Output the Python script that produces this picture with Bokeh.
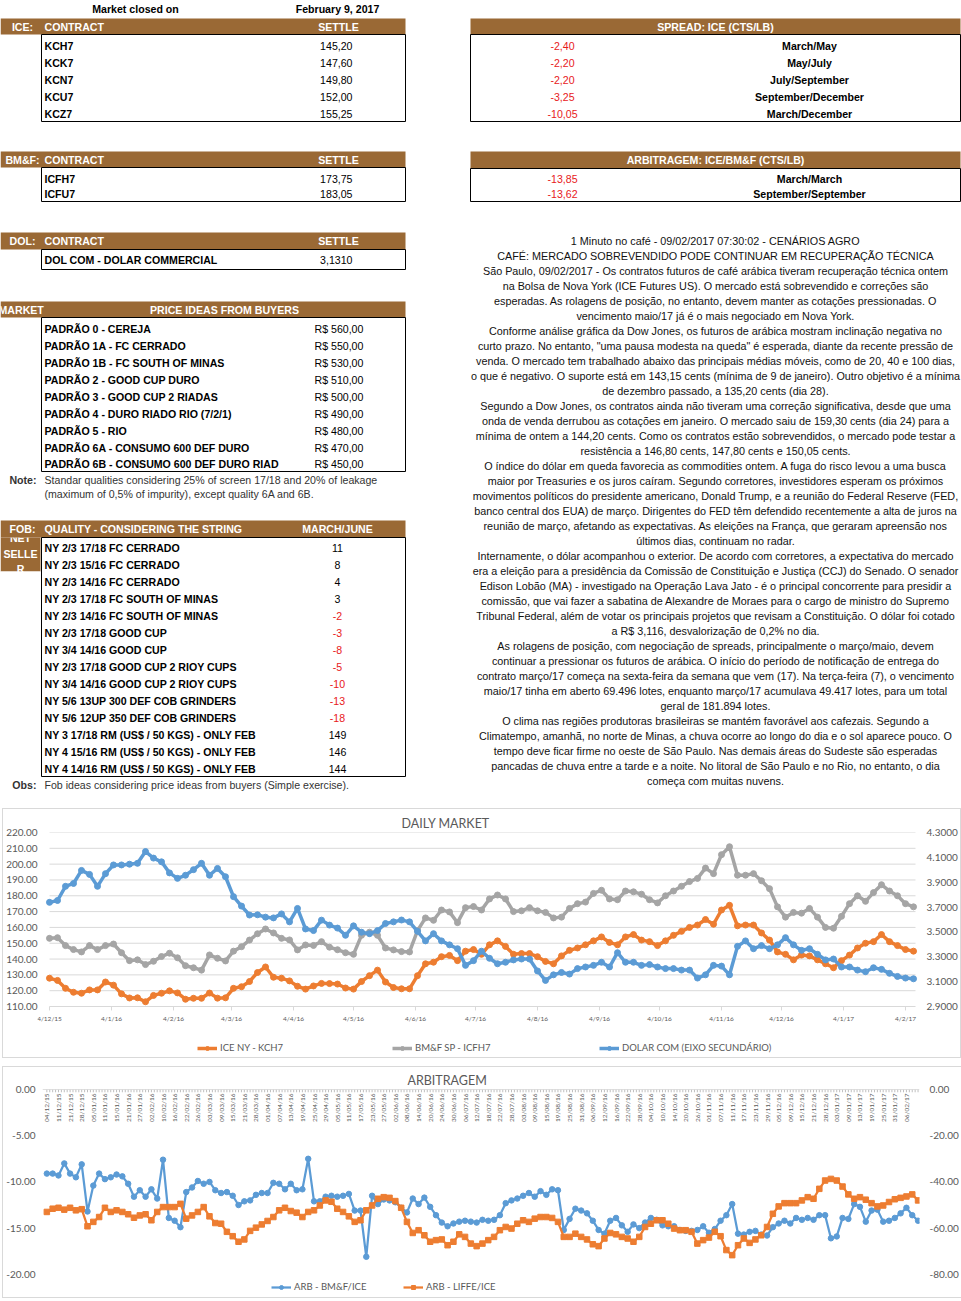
import numpy as np
import pandas as pd
from bokeh.plotting import figure
from bokeh.models import (Range1d, LinearAxis, FixedTicker, NumeralTickFormatter,
                          Legend, LegendItem, Span)
from bokeh.embed import file_html
from bokeh.resources import INLINE
from bokeh.core.properties import value

# ---------------------------------------------------------------- data
market_closed_on = "February 9, 2017"

ice_contracts = ["KCH7", "KCK7", "KCN7", "KCU7", "KCZ7"]
ice_settle = [145.20, 147.60, 149.80, 152.00, 155.25]

spread_values = [-2.40, -2.20, -2.20, -3.25, -10.05]
spread_labels = ["March/May", "May/July", "July/September", "September/December", "March/December"]

bmf_contracts = ["ICFH7", "ICFU7"]
bmf_settle = [173.75, 183.05]

arb_values = [-13.85, -13.62]
arb_labels = ["March/March", "September/September"]

dol_contracts = ["DOL COM - DOLAR COMMERCIAL"]
dol_settle = [3.1310]

price_qualities = ["PADRÃO 0 - CEREJA", "PADRÃO 1A - FC CERRADO", "PADRÃO 1B - FC SOUTH OF MINAS",
                   "PADRÃO 2 - GOOD CUP DURO", "PADRÃO 3 - GOOD CUP 2 RIADAS",
                   "PADRÃO 4 - DURO RIADO RIO (7/2/1)", "PADRÃO 5 - RIO",
                   "PADRÃO 6A - CONSUMO 600 DEF DURO", "PADRÃO 6B - CONSUMO 600 DEF DURO RIAD"]
price_values = [560.00, 550.00, 530.00, 510.00, 500.00, 490.00, 480.00, 470.00, 450.00]
price_note = ["Standar qualities considering 25% of screen 17/18 and 20% of leakage",
              "(maximum of 0,5% of impurity), except quality 6A and 6B."]

fob_qualities = ["NY 2/3 17/18 FC CERRADO", "NY 2/3 15/16 FC CERRADO", "NY 2/3 14/16 FC CERRADO",
                 "NY 2/3 17/18 FC SOUTH OF MINAS", "NY 2/3 14/16 FC SOUTH OF MINAS",
                 "NY 2/3 17/18 GOOD CUP", "NY 3/4 14/16 GOOD CUP", "NY 2/3 17/18 GOOD CUP 2 RIOY CUPS",
                 "NY 3/4 14/16 GOOD CUP 2 RIOY CUPS", "NY 5/6 13UP 300 DEF COB GRINDERS",
                 "NY 5/6 12UP 350 DEF COB GRINDERS", "NY 3 17/18 RM (US$ / 50 KGS) - ONLY FEB",
                 "NY 4 15/16 RM (US$ / 50 KGS) - ONLY FEB", "NY 4 14/16 RM (US$ / 50 KGS) - ONLY FEB"]
fob_values = [11, 8, 4, 3, -2, -3, -8, -5, -10, -13, -18, 149, 146, 144]
fob_obs = "Fob ideas considering price ideas from buyers (Simple exercise)."

news_lines = [
    "1 Minuto no café - 09/02/2017 07:30:02 - CENÁRIOS AGRO",
    "CAFÉ: MERCADO SOBREVENDIDO PODE CONTINUAR EM RECUPERAÇÃO TÉCNICA",
    "São Paulo, 09/02/2017 - Os contratos futuros de café arábica tiveram recuperação técnica ontem",
    "na Bolsa de Nova York (ICE Futures US). O mercado está sobrevendido e correções são",
    "esperadas. As rolagens de posição, no entanto, devem manter as cotações pressionadas. O",
    "vencimento maio/17 já é o mais negociado em Nova York.",
    "Conforme análise gráfica da Dow Jones, os futuros de arábica mostram inclinação negativa no",
    'curto prazo. No entanto, "uma pausa modesta na queda" é esperada, diante da recente pressão de',
    "venda. O mercado tem trabalhado abaixo das principais médias móveis, como de 20, 40 e 100 dias,",
    "o que é negativo. O suporte está em 143,15 cents (mínima de 9 de janeiro). Outro objetivo é a mínima",
    "de dezembro passado, a 135,20 cents (dia 28).",
    "Segundo a Dow Jones, os contratos ainda não tiveram uma correção significativa, desde que uma",
    "onda de venda derrubou as cotações em janeiro. O mercado saiu de 159,30 cents (dia 24) para a",
    "mínima de ontem a 144,20 cents. Como os contratos estão sobrevendidos, o mercado pode testar a",
    "resistência a 146,80 cents, 147,80 cents e 150,05 cents.",
    "O índice do dólar em queda favorecia as commodities ontem. A fuga do risco levou a uma busca",
    "maior por Treasuries e os juros caíram. Segundo corretores, investidores esperam os próximos",
    "movimentos políticos do presidente americano, Donald Trump, e a reunião do Federal Reserve (FED,",
    "banco central dos EUA) de março. Dirigentes do FED têm defendido recentemente a alta de juros na",
    "reunião de março, afetando as expectativas. As eleições na França, que geraram apreensão nos",
    "últimos dias, continuam no radar.",
    "Internamente, o dólar acompanhou o exterior. De acordo com corretores, a expectativa do mercado",
    "era a eleição para a presidência da Comissão de Constituição e Justiça (CCJ) do Senado. O senador",
    "Edison Lobão (MA) - investigado na Operação Lava Jato - é o principal concorrente para presidir a",
    "comissão, que vai fazer a sabatina de Alexandre de Moraes para o cargo de ministro do Supremo",
    "Tribunal Federal, além de votar os principais projetos que revisam a Constituição. O dólar foi cotado",
    "a R$ 3,116, desvalorização de 0,2% no dia.",
    "As rolagens de posição, com negociação de spreads, principalmente o março/maio, devem",
    "continuar a pressionar os futuros de arábica. O início do período de notificação de entrega do",
    "contrato março/17 começa na sexta-feira da semana que vem (17). Na terça-feira (7), o vencimento",
    "maio/17 tinha em aberto 69.496 lotes, enquanto março/17 acumulava 49.417 lotes, para um total",
    "geral de 181.894 lotes.",
    "O clima nas regiões produtoras brasileiras se mantém favorável aos cafezais. Segundo a",
    "Climatempo, amanhã, no norte de Minas, a chuva ocorre ao longo do dia e o sol aparece pouco. O",
    "tempo deve ficar firme no oeste de São Paulo. Nas demais áreas do Sudeste são esperadas",
    "pancadas de chuva entre a tarde e a noite. No litoral de São Paulo e no Rio, no entanto, o dia",
    "começa com muitas nuvens.",
]

# DAILY MARKET: one reading every 4 days from 04/12/2015
daily_start = "2015-12-04"
daily_end = "2017-02-09"
daily_step = "4D"
daily_tick_labels = ["4/12/15", "4/1/16", "4/2/16", "4/3/16", "4/4/16", "4/5/16", "4/6/16", "4/7/16",
                     "4/8/16", "4/9/16", "4/10/16", "4/11/16", "4/12/16", "4/1/17", "4/2/17"]
ice_kch7 = [127.9, 126.5, 121.5, 119.0, 118.4, 120.5, 120.5, 125.5, 123.5, 118.0, 115.4, 115.5, 113.0,
            117.0, 118.4, 119.9, 118.6, 114.6, 115.2, 115.2, 118.5, 115.3, 115.5, 121.5, 122.5, 125.8,
            131.5, 135.0, 128.5, 127.9, 126.2, 122.8, 121.0, 123.0, 124.6, 124.5, 124.2, 121.7, 121.0,
            125.8, 129.5, 133.0, 125.5, 122.0, 121.2, 121.2, 129.5, 137.0, 138.0, 141.5, 142.3, 139.0,
            145.0, 146.0,
            143.0, 149.0, 151.5, 148.0, 143.0, 143.5, 143.5, 141.5, 138.5, 137.0, 142.0, 145.5, 147.0,
            149.0, 151.5, 154.0, 150.5, 149.0, 154.0, 155.5, 152.0, 151.0, 148.5, 151.5, 155.0, 157.5,
            160.0, 161.5, 165.0, 162.0, 171.0, 174.0, 161.0, 161.5, 161.5, 156.5, 152.0, 144.5, 143.0,
            139.5, 142.5, 142.0, 139.5, 137.0, 134.5, 139.0, 142.5, 147.0, 150.0, 151.0, 155.5, 151.0,
            148.5, 146.0, 145.0]
bmf_icfh7 = [153.1, 153.5, 148.5, 146.0, 144.5, 148.5, 146.0, 148.5, 149.5, 144.0, 139.0, 139.5, 136.5,
             138.6, 141.6, 143.7, 140.8, 135.8, 134.5, 133.0, 142.6, 140.5, 138.8, 145.0, 147.8, 152.0,
             156.0, 159.0, 156.5, 153.1, 152.1, 145.8, 148.9, 148.6, 151.0, 147.5, 145.9, 144.0, 143.0,
             155.0, 157.0, 155.0, 147.0, 145.8, 144.7, 144.5, 158.0, 166.0, 164.5, 171.0, 169.8, 163.0,
             172.5, 173.2,
             171.0, 178.0, 180.5, 178.0, 170.0, 170.5, 172.5, 170.5, 169.5, 166.0, 166.5, 172.0, 175.0,
             176.0, 181.5, 183.5, 178.0, 177.5, 183.0, 182.5, 181.0, 177.5, 175.5, 180.0, 183.0, 186.0,
             189.0, 191.0, 197.5, 194.0, 206.0, 211.0, 193.0, 193.0, 194.0, 189.5, 184.5, 173.0, 166.5,
             169.5, 169.0, 172.0, 166.5, 160.0, 159.5, 167.0, 175.0, 180.0, 176.5, 182.0, 187.0, 183.0,
             180.0, 175.0, 173.0]
dolar_com = [3.738, 3.753, 3.867, 3.890, 3.995, 3.963, 3.867, 3.969, 4.039, 4.039, 4.045, 4.052, 4.147,
             4.094, 4.064, 3.975, 3.931, 3.956, 4.001, 4.052, 3.956, 4.011, 3.944, 3.784, 3.708, 3.636,
             3.638, 3.619, 3.613, 3.645, 3.581, 3.689, 3.524, 3.511, 3.595, 3.555, 3.531, 3.473, 3.549,
             3.498, 3.486, 3.511, 3.568, 3.581, 3.596, 3.581, 3.505, 3.428, 3.486, 3.428, 3.396, 3.365,
             3.231, 3.269,
             3.345, 3.288, 3.244, 3.256, 3.275, 3.282, 3.282, 3.186, 3.110, 3.155, 3.174, 3.161, 3.205,
             3.218, 3.231, 3.256, 3.218, 3.333, 3.256, 3.256, 3.231, 3.237, 3.218, 3.205, 3.205, 3.193,
             3.193, 3.129, 3.155, 3.231, 3.225, 3.155, 3.384, 3.428, 3.365, 3.390, 3.365, 3.396, 3.454,
             3.396, 3.352, 3.365, 3.320, 3.275, 3.282, 3.218, 3.218, 3.193, 3.180, 3.212, 3.199, 3.167,
             3.142, 3.129, 3.123]

# ARBITRAGEM: category axis of trading days, one reading every 2 sessions
arb_x_labels = ["04/12/15", "11/12/15", "21/12/15", "28/12/15", "05/01/16", "11/01/16", "15/01/16",
                "21/01/16", "27/01/16", "02/02/16", "10/02/16", "16/02/16", "22/02/16", "26/02/16",
                "03/03/16", "09/03/16", "15/03/16", "21/03/16", "28/03/16", "01/04/16", "07/04/16",
                "13/04/16", "19/04/16", "25/04/16", "29/04/16", "05/05/16", "11/05/16", "17/05/16",
                "23/05/16", "27/05/16", "02/06/16", "08/06/16", "14/06/16", "20/06/16", "24/06/16",
                "30/06/16", "06/07/16", "12/07/16", "18/07/16", "22/07/16", "28/07/16", "03/08/16",
                "09/08/16", "15/08/16", "19/08/16", "25/08/16", "31/08/16", "06/09/16", "12/09/16",
                "16/09/16", "22/09/16", "28/09/16", "04/10/16", "10/10/16", "14/10/16", "20/10/16",
                "26/10/16", "01/11/16", "07/11/16", "11/11/16", "17/11/16", "23/11/16", "29/11/16",
                "05/12/16", "09/12/16", "15/12/16", "21/12/16", "28/12/16", "03/01/17", "09/01/17",
                "13/01/17", "19/01/17", "25/01/17", "31/01/17", "06/02/17"]
arb_bmf_ice = [-9.1, -9.1, -9.3, -8.0, -9.1, -9.5, -8.1, -13.2, -10.4, -9.1,
               -9.7, -9.5, -9.2, -9.4, -10.2, -11.6, -10.9, -11.6, -10.8, -11.8,
               -7.6, -13.9, -14.2, -14.9, -11.1, -10.6, -9.9, -10.2, -10.0, -10.9,
               -11.2, -11.1, -11.5, -12.5, -12.1, -12.0, -11.4, -11.2, -11.2, -10.1,
               -10.2, -10.8, -10.2, -10.9, -10.8, -7.5, -12.1, -12.1, -11.6, -11.5,
               -11.6, -11.5, -11.3, -13.1, -13.1, -18.1, -11.5, -12.4, -11.9, -12.0,
               -12.2, -12.8, -13.3, -11.8, -12.4, -11.7, -12.7, -13.6, -14.4, -14.8,
               -14.5, -14.3, -14.2, -14.3, -14.4, -14.1, -14.2, -14.1, -13.6, -12.3,
               -12.0, -11.8, -11.5, -11.2, -11.6, -11.0, -11.4, -10.8, -10.9, -15.2,
               -14.0, -12.9, -13.1, -13.4, -14.2, -15.2, -15.6, -14.2, -13.9, -14.7,
               -15.4, -14.6, -15.0, -14.4, -13.9, -14.1, -14.7, -14.8, -14.8, -15.2,
               -15.3, -15.3, -15.2, -14.8, -15.5, -15.1, -14.2, -13.6, -12.4, -15.6,
               -15.7, -15.4, -15.3, -15.7, -15.8, -14.9, -14.5, -14.2, -14.5, -13.9,
               -14.1, -13.9, -14.1, -13.6, -13.6, -16.1, -15.9, -13.9, -14.0, -12.4,
               -12.7, -14.3, -13.1, -13.0, -14.3, -14.2, -13.9, -13.4, -12.8, -13.6,
               -14.2]
arb_liffe_ice = [-53.0, -51.6, -51.2, -52.0, -51.2, -52.3, -51.8, -59.2, -57.3, -55.2,
                 -51.2, -53.0, -52.3, -53.0, -54.0, -55.5, -54.5, -54.0, -56.6, -53.0,
                 -50.9, -50.9, -50.9, -49.5, -55.9, -54.5, -53.0, -50.9, -54.9, -57.8,
                 -58.1, -61.6, -63.5, -65.9, -64.9, -61.2, -59.8, -58.4, -56.9, -55.2,
                 -52.3, -51.2, -52.6, -53.3, -55.2, -53.0, -52.3, -50.2, -48.0, -48.6,
                 -51.6, -53.0, -54.9, -57.3, -56.6, -52.3, -50.2, -47.3, -46.6, -46.9,
                 -48.3, -51.2, -57.3, -62.1, -60.9, -63.1, -65.9, -65.2, -64.9, -67.4,
                 -65.9, -62.7, -63.8, -66.7, -67.8, -66.7, -65.2, -63.8, -60.9, -59.5,
                 -60.2, -58.1, -56.6, -57.3, -55.9, -55.2, -55.2, -55.6, -57.3, -63.8,
                 -63.8, -62.4, -63.8, -64.9, -67.0, -67.8, -64.5, -62.1, -62.7, -63.8,
                 -64.5, -65.9, -63.8, -59.5, -58.1, -56.6, -56.6, -58.1, -60.2, -60.9,
                 -60.9, -61.6, -66.7, -65.2, -64.1, -61.6, -63.5, -69.5, -71.7, -67.4,
                 -64.5, -66.4, -64.9, -63.1, -59.5, -53.8, -50.6, -49.2, -49.2, -49.2,
                 -48.0, -46.6, -47.3, -43.0, -39.4, -38.7, -39.4, -42.0, -45.4, -47.3,
                 -46.6, -47.7, -49.2, -50.6, -50.2, -48.7, -47.5, -46.9, -46.3, -45.4,
                 -48.0]

# ---------------------------------------------------------------- style
FONT = value("Liberation Sans")
FS = "10.6px"
BROWN = "#9A6935"
RED = "#E8191B"
GRAY_TXT = "#595959"
GRID = "#D9D9D9"
C_ORANGE = "#ED7D31"
C_GRAY = "#A5A5A5"
C_BLUE = "#5B9BD5"


def br(v, d=2):
    return f"{v:.{d}f}".replace(".", ",")


# ---------------------------------------------------------------- top panel (tables + news)
top = figure(frame_width=961, frame_height=806, x_range=Range1d(0, 961), y_range=Range1d(806, 0),
             output_backend="svg", toolbar_location=None, min_border=0,
             x_axis_location=None, y_axis_location=None, outline_line_color=None)
top.grid.visible = False


def put(xs, ys, texts, align="left", color="#000000", bold=False, size=FS):
    top.text(x=xs, y=ys, text=texts, text_align=align, text_baseline="middle",
             text_color=color, text_font=FONT, text_font_size=size,
             text_font_style="bold" if bold else "normal")


# NET SELLER box (text partly hidden by neighbouring cells)
top.quad(left=[0], right=[40], top=[537], bottom=[571], fill_color=BROWN, line_color=None)
put([20, 20, 20], [537, 553, 568], ["NET", "SELLE", "R"], align="center", color="white", bold=True)

# brown header bars
lh = [(18, 34), (151, 167), (232, 249), (301, 317), (520, 537)]
rh = [(18, 34), (151, 168)]
top.quad(left=[0] * len(lh) + [470] * len(rh), right=[405] * len(lh) + [960] * len(rh),
         top=[a for a, b in lh + rh], bottom=[b for a, b in lh + rh], fill_color=BROWN, line_color=None)
top.quad(left=[0], right=[40], top=[571], bottom=[580], fill_color="white", line_color=None)

# table bodies
lb = [(34, 121), (167, 201), (249, 269), (317, 471), (537, 776)]
rb = [(34, 121), (168, 201)]
top.quad(left=[41] * len(lb) + [470] * len(rb), right=[405] * len(lb) + [960] * len(rb),
         top=[a for a, b in lb + rb], bottom=[b for a, b in lb + rb],
         fill_alpha=0, line_color="black", line_width=1)

# title row
put([135, 337], [8, 8], ["Market closed on", market_closed_on], align="center", bold=True)

# header texts
put([22, 22, 22, 22], [26, 159, 240.5, 528.5], ["ICE:", "BM&F:", "DOL:", "FOB:"], align="center",
    color="white", bold=True)
put([-2], [309], ["MARKET"], color="white", bold=True)
put([44, 44, 44, 44], [26, 159, 240.5, 528.5],
    ["CONTRACT", "CONTRACT", "CONTRACT", "QUALITY - CONSIDERING THE STRING"], color="white", bold=True)
put([338, 338, 338, 224, 337, 715, 715], [26, 159, 240.5, 309, 528, 26, 159.5],
    ["SETTLE", "SETTLE", "SETTLE", "PRICE IDEAS FROM BUYERS", "MARCH/JUNE",
     "SPREAD: ICE (CTS/LB)", "ARBITRAGEM: ICE/BM&F (CTS/LB)"], align="center", color="white", bold=True)

# ICE
ice_y = [45 + 17 * i for i in range(len(ice_contracts))]
put([44] * len(ice_y), ice_y, ice_contracts, bold=True)
put([352] * len(ice_y), ice_y, [br(v) for v in ice_settle], align="right")
# spread
put([562] * len(ice_y), ice_y, [br(v) for v in spread_values], align="center", color=RED)
put([809] * len(ice_y), ice_y, spread_labels, align="center", bold=True)
# BM&F
bmf_y = [178, 193]
put([44, 44], bmf_y, bmf_contracts, bold=True)
put([352, 352], bmf_y, [br(v) for v in bmf_settle], align="right")
put([562, 562], bmf_y, [br(v) for v in arb_values], align="center", color=RED)
put([809, 809], bmf_y, arb_labels, align="center", bold=True)
# DOL
put([44], [259.5], dol_contracts, bold=True)
put([352], [259.5], [br(v, 4) for v in dol_settle], align="right")
# price ideas
p_y = [328 + 17 * i for i in range(len(price_qualities) - 1)] + [463]
put([44] * len(p_y), p_y, price_qualities, bold=True)
put([314] * len(p_y), p_y, ["R$ " + br(v) for v in price_values])
put([36], [479], ["Note:"], align="right", color="#333333", bold=True)
put([44, 44], [479, 493], price_note, color="#333333")
# FOB
f_y = [547 + 17 * i for i in range(len(fob_qualities))]
put([44] * len(f_y), f_y, fob_qualities, bold=True)
pos_i = [i for i, v in enumerate(fob_values) if v >= 0]
neg_i = [i for i, v in enumerate(fob_values) if v < 0]
put([337] * len(pos_i), [f_y[i] for i in pos_i], [str(fob_values[i]) for i in pos_i], align="center")
put([337] * len(neg_i), [f_y[i] for i in neg_i], [str(fob_values[i]) for i in neg_i], align="center",
    color=RED)
put([36], [784], ["Obs:"], align="right", color="#333333", bold=True)
put([44], [784], [fob_obs], color="#333333")
# news
put([715] * len(news_lines), [240 + 15 * i for i in range(len(news_lines))], news_lines,
    align="center", color="#111111", size="10.8px")


def one_legend(fig, label, rends, x, y):
    lg = Legend(items=[LegendItem(label=label, renderers=rends)], location=(x, y),
                orientation="horizontal", border_line_color=None, background_fill_alpha=0,
                padding=0, margin=0, spacing=0, glyph_width=20, glyph_height=10, label_standoff=3,
                label_text_font="Lato", label_text_font_size="9.5px", label_text_color=GRAY_TXT,
                label_height=10)
    fig.add_layout(lg)


def style_y(ax, standoff):
    ax.axis_line_color = None
    ax.major_tick_line_color = None
    ax.minor_tick_line_color = None
    ax.major_tick_out = 0
    ax.major_tick_in = 0
    ax.minor_tick_out = 0
    ax.minor_tick_in = 0
    ax.major_label_text_color = GRAY_TXT
    ax.major_label_text_font = "Lato"
    ax.major_label_text_font_size = "10px"
    ax.major_label_standoff = standoff


def style_title(fig, offset):
    fig.title.text_font = "Lato"
    fig.title.text_font_size = "12.5px"
    fig.title.text_font_style = "normal"
    fig.title.text_color = GRAY_TXT
    fig.title.align = "left"
    fig.title.offset = offset
    fig.title.standoff = 4


# ---------------------------------------------------------------- DAILY MARKET chart
d_dates = pd.date_range(daily_start, periods=len(ice_kch7), freq=daily_step)
tick_dt = pd.to_datetime(daily_tick_labels, format="%d/%m/%y")
d_first, d_last = pd.Timestamp(daily_start), pd.Timestamp(daily_end)
left_ticks = list(range(110, 221, 10))

# frame runs down to the bottom of the chart box so the legend can sit inside it
Y_LO, Y_HI = 78.4, 220.0
DOL_LO, DOL_HI = 2.9 + (Y_LO - 110) * 1.4 / 110, 4.3

c1 = figure(x_axis_type="datetime", frame_width=884, frame_height=224,
            min_border_left=33, min_border_right=39, min_border_top=23, min_border_bottom=1,
            x_range=Range1d(d_first - pd.Timedelta(days=6), d_last + pd.Timedelta(days=3)),
            y_range=Range1d(Y_LO, Y_HI), x_axis_location=None,
            output_backend="svg", toolbar_location=None,
            title="DAILY MARKET", outline_line_color=None,
            styles={"border": "1px solid #D9D9D9", "margin-left": "2px", "margin-top": "2px"})
style_title(c1, 364)
c1.extra_y_ranges = {"dol": Range1d(DOL_LO, DOL_HI)}
c1.grid.visible = False

ly = c1.yaxis[0]
ly.ticker = FixedTicker(ticks=left_ticks)
ly.formatter = NumeralTickFormatter(format="0.00", language="pt-br")
ry = LinearAxis(y_range_name="dol", ticker=FixedTicker(ticks=[2.9, 3.1, 3.3, 3.5, 3.7, 3.9, 4.1, 4.3]),
                formatter=NumeralTickFormatter(format="0.0000", language="pt-br"))
c1.add_layout(ry, "right")
style_y(ly, 0)
style_y(ry, 5)

# horizontal gridlines across the date span, axis line at 110, tick marks and date labels
c1.segment(x0=[d_first] * len(left_ticks), y0=left_ticks, x1=[d_last] * len(left_ticks), y1=left_ticks,
           line_color=GRID, line_width=1)
c1.segment(x0=tick_dt, y0=[110] * len(tick_dt), x1=tick_dt, y1=[107.5] * len(tick_dt),
           line_color=GRID, line_width=1)
c1.text(x=tick_dt, y=[110] * len(tick_dt), text=daily_tick_labels, text_align="center",
        text_baseline="top", y_offset=8, text_font=value("Lato"), text_font_size="6.5px",
        text_color=GRAY_TXT)

LW, MS = 3.5, 6
r_o1 = c1.line(d_dates, ice_kch7, line_color=C_ORANGE, line_width=LW)
r_o2 = c1.scatter(d_dates, ice_kch7, marker="circle", size=MS, fill_color=C_ORANGE, line_color=C_ORANGE)
r_g1 = c1.line(d_dates, bmf_icfh7, line_color=C_GRAY, line_width=LW)
r_g2 = c1.scatter(d_dates, bmf_icfh7, marker="circle", size=MS, fill_color=C_GRAY, line_color=C_GRAY)
r_b1 = c1.line(d_dates, dolar_com, line_color=C_BLUE, line_width=LW, y_range_name="dol")
r_b2 = c1.scatter(d_dates, dolar_com, marker="circle", size=MS, fill_color=C_BLUE, line_color=C_BLUE,
                  y_range_name="dol")

one_legend(c1, "ICE NY - KCH7", [r_o1, r_o2], 160, 3)
one_legend(c1, "BM&F SP - ICFH7", [r_g1, r_g2], 355, 3)
one_legend(c1, "DOLAR COM (EIXO SECUNDÁRIO)", [r_b1, r_b2], 562, 3)

# ---------------------------------------------------------------- ARBITRAGEM chart
arb_idx = np.arange(0, 2 * len(arb_bmf_ice), 2)
lab_idx = np.arange(0, 4 * len(arb_x_labels), 4)
cat_idx = np.arange(0, arb_idx[-1] + 1)

A_LO = -22.4
c2 = figure(frame_width=877, frame_height=207,
            min_border_left=38, min_border_right=41, min_border_top=22, min_border_bottom=1,
            x_range=Range1d(-1.5, 300.5), y_range=Range1d(A_LO, 0),
            x_axis_location=None, output_backend="svg", toolbar_location=None,
            title="ARBITRAGEM", outline_line_color=None,
            styles={"border": "1px solid #D9D9D9", "margin-left": "2px", "margin-top": "8px"})
style_title(c2, 365)
c2.extra_y_ranges = {"liffe": Range1d(4 * A_LO, 0)}
c2.grid.visible = False

ly2 = c2.yaxis[0]
ly2.ticker = FixedTicker(ticks=[-20, -15, -10, -5, 0])
ly2.formatter = NumeralTickFormatter(format="0.00", language="pt-br")
ry2 = LinearAxis(y_range_name="liffe", ticker=FixedTicker(ticks=[-80, -60, -40, -20, 0]),
                 formatter=NumeralTickFormatter(format="0.00", language="pt-br"))
c2.add_layout(ry2, "right")
style_y(ly2, 7)
style_y(ry2, 10)

# category axis line at zero with a tick for every session
c2.add_layout(Span(location=0, dimension="width", line_color="#BFBFBF", line_width=1))
c2.segment(x0=cat_idx, y0=[0] * len(cat_idx), x1=cat_idx, y1=[-0.3] * len(cat_idx),
           line_color="#BFBFBF", line_width=1)
c2.text(x=lab_idx, y=[0] * len(lab_idx), text=arb_x_labels, angle=np.pi / 2, text_align="right",
        text_baseline="middle", y_offset=4, text_font=value("Lato"), text_font_size="6.5px",
        text_color=GRAY_TXT)

r_a1 = c2.line(arb_idx, arb_bmf_ice, line_color=C_BLUE, line_width=2.25)
r_a2 = c2.scatter(arb_idx, arb_bmf_ice, marker="circle", size=5.5, fill_color=C_BLUE, line_color=C_BLUE)
r_l1 = c2.line(arb_idx, arb_liffe_ice, line_color=C_ORANGE, line_width=2.25, y_range_name="liffe")
r_l2 = c2.scatter(arb_idx, arb_liffe_ice, marker="square", size=5.5, fill_color=C_ORANGE, line_color=C_ORANGE,
                  y_range_name="liffe")

one_legend(c2, "ARB - BM&F/ICE", [r_a1, r_a2], 229, 4)
one_legend(c2, "ARB - LIFFE/ICE", [r_l1, r_l2], 361, 4)

open("out.html", "w").write(file_html([top, c1, c2], INLINE))
